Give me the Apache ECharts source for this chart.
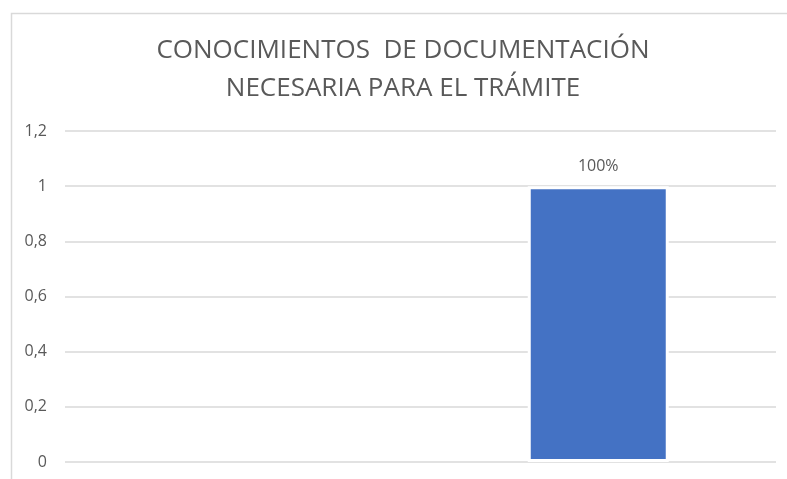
<!DOCTYPE html>
<html>
<head>
<meta charset="utf-8">
<title>Conocimientos de documentación</title>
<script src="https://cdn.jsdelivr.net/npm/echarts@6/dist/echarts.min.js"></script>
<style>
  html, body { margin: 0; padding: 0; background: #fff; }
  #chart { width: 787px; height: 479px; }
</style>
</head>
<body>
<div id="chart"></div>
<script>
// datos del gráfico
var categorias = ["No", "Sí"];
var valores = [null, 1];
var ticksY = [0, 0.2, 0.4, 0.6, 0.8, 1, 1.2];
var titulo = "CONOCIMIENTOS  DE DOCUMENTACIÓN\nNECESARIA PARA EL TRÁMITE";

var myChart = echarts.init(document.getElementById("chart"));
myChart.setOption({
  animation: false,
  textStyle: { fontFamily: "Open Sans" },
  title: {
    text: titulo,
    left: 398,
    textAlign: "center",
    top: 27,
    textStyle: {
      fontFamily: "Open Sans",
      fontSize: 26,
      fontWeight: "normal",
      color: "#595959",
      lineHeight: 38
    }
  },
  // borde del área del gráfico
  graphic: [
    {
      type: "rect",
      left: 9,
      top: 11,
      shape: { width: 800, height: 480 },
      style: { fill: "none", stroke: "#d9d9d9", lineWidth: 1.5 },
      silent: true,
      z: -1
    }
  ],
  grid: {
    left: 65,
    right: 11,
    top: 131,
    bottom: 17,
    containLabel: false
  },
  xAxis: {
    type: "category",
    data: categorias,
    axisLine: { show: false },
    axisTick: { show: false },
    axisLabel: { show: false }
  },
  yAxis: {
    type: "value",
    min: ticksY[0],
    max: ticksY[ticksY.length - 1],
    interval: 0.2,
    axisLine: { show: false },
    axisTick: { show: false },
    splitLine: { lineStyle: { color: "#d9d9d9", width: 1.5 } },
    axisLabel: {
      margin: 18,
      fontSize: 16,
      color: "#595959",
      formatter: function (v) {
        return String(Math.round(v * 10) / 10).replace(".", ",");
      }
    }
  },
  series: [
    {
      type: "bar",
      data: valores,
      barWidth: 141,
      itemStyle: {
        color: "#4472c4",
        borderColor: "#ffffff",
        borderWidth: 3
      },
      label: {
        show: true,
        position: "top",
        distance: 12,
        fontSize: 16,
        color: "#595959",
        formatter: function (p) {
          return Math.round(p.value * 100) + "%";
        }
      }
    }
  ]
});
</script>
</body>
</html>
